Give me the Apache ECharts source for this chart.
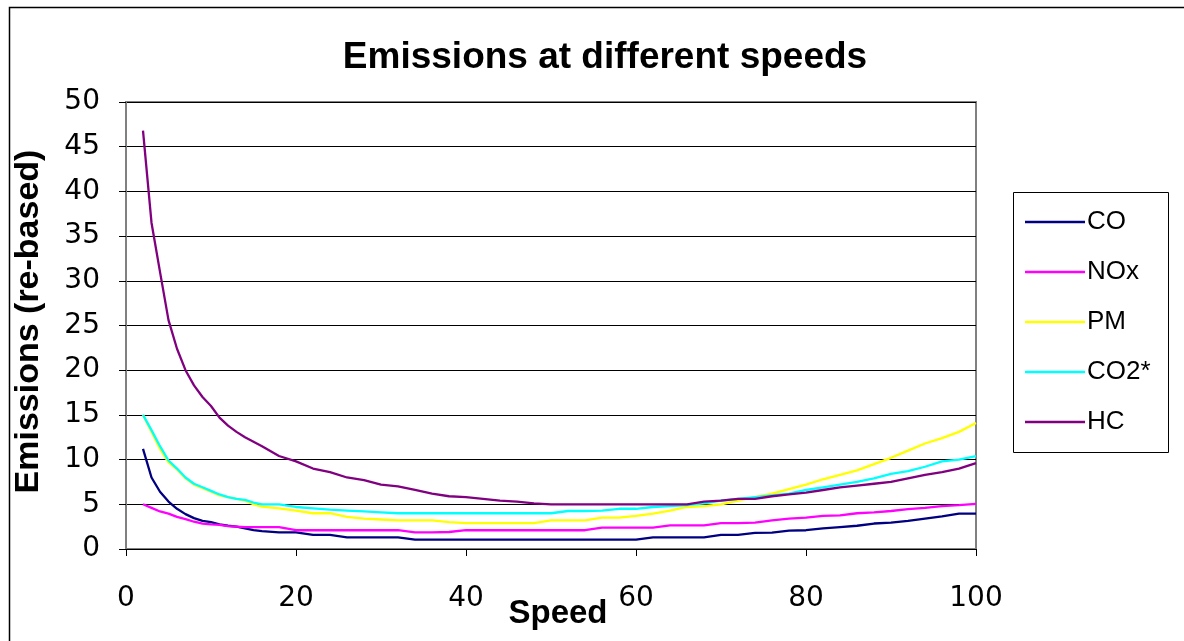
<!DOCTYPE html>
<html>
<head>
<meta charset="utf-8">
<script src="https://cdn.jsdelivr.net/npm/echarts@6/dist/echarts.min.js"></script>
<style>
  html,body{margin:0;padding:0;background:#fff;}
  #main{width:1184px;height:641px;}
</style>
</head>
<body>
<div id="main"></div>
<script>
// speeds (x values) shared by every series
var speeds = [2,3,4,5,6,7,8,9,10,11,12,13,14,15,16,18,20,22,24,26,28,30,32,34,36,38,40,42,44,46,48,50,52,54,56,58,60,62,64,66,68,70,72,74,76,78,80,82,84,86,88,90,92,94,96,98,100];

var coVals  = [11.2,8.0,6.4,5.3,4.5,3.9,3.45,3.15,3.0,2.75,2.6,2.5,2.3,2.1,2.0,1.86,1.86,1.57,1.57,1.3,1.3,1.3,1.3,1.04,1.04,1.04,1.04,1.04,1.04,1.04,1.04,1.04,1.04,1.04,1.04,1.04,1.04,1.3,1.3,1.3,1.3,1.57,1.57,1.8,1.83,2.05,2.1,2.3,2.45,2.6,2.85,2.95,3.15,3.4,3.65,3.95,3.95];
var noxVals = [5.0,4.6,4.2,3.95,3.6,3.35,3.05,2.85,2.75,2.7,2.55,2.5,2.45,2.45,2.45,2.45,2.1,2.1,2.1,2.1,2.1,2.1,2.1,1.86,1.86,1.9,2.1,2.1,2.1,2.1,2.1,2.1,2.1,2.1,2.4,2.4,2.4,2.4,2.65,2.65,2.65,2.9,2.9,2.95,3.2,3.4,3.5,3.7,3.75,4.0,4.1,4.25,4.45,4.6,4.8,4.9,5.05];
var pmVals  = [15.0,13.1,11.2,9.7,8.9,7.9,7.2,6.8,6.4,6.0,5.8,5.6,5.4,5.0,4.75,4.55,4.3,4.0,4.0,3.6,3.4,3.3,3.2,3.2,3.2,3.0,2.9,2.9,2.9,2.9,2.9,3.2,3.2,3.2,3.5,3.5,3.7,3.95,4.3,4.7,4.8,5.0,5.4,5.8,6.2,6.7,7.2,7.8,8.3,8.8,9.5,10.2,11.0,11.8,12.4,13.1,14.1];
var co2Vals = [15.0,13.3,11.5,9.9,9.0,8.0,7.3,6.9,6.5,6.1,5.8,5.6,5.5,5.2,5.0,5.0,4.7,4.55,4.4,4.3,4.2,4.1,4.0,4.0,4.0,4.0,4.0,4.0,4.0,4.0,4.0,4.0,4.25,4.25,4.3,4.5,4.5,4.7,4.8,4.9,5.1,5.4,5.6,5.8,6.0,6.2,6.6,6.9,7.2,7.5,7.9,8.4,8.7,9.2,9.8,10.0,10.4];
var hcVals  = [46.8,36.5,31.0,25.6,22.4,20.0,18.3,17.0,16.0,14.7,13.8,13.1,12.5,12.0,11.5,10.4,9.8,9.0,8.6,8.0,7.7,7.2,7.0,6.6,6.2,5.9,5.8,5.6,5.4,5.3,5.1,5.0,5.0,5.0,5.0,5.0,5.0,5.0,5.0,5.0,5.3,5.4,5.6,5.6,5.9,6.1,6.3,6.6,6.9,7.1,7.3,7.5,7.9,8.3,8.6,9.0,9.6];

var names  = ['CO','NOx','PM','CO2*','HC'];
var values = [coVals, noxVals, pmVals, co2Vals, hcVals];
var colors = ['#000080','#ff00ff','#ffff00','#00ffff','#800080'];

function pairs(v){
  var out = [];
  for (var i = 0; i < speeds.length; i++) out.push([speeds[i], v[i]]);
  return out;
}

var myChart = echarts.init(document.getElementById('main'));
var font = 'Liberation Sans, Arial, sans-serif';
var numFont = 'DejaVu Sans, sans-serif';

var series = [];
for (var i = 0; i < names.length; i++) {
  series.push({
    name: names[i],
    type: 'line',
    data: pairs(values[i]),
    symbol: 'none',
    smooth: false,
    lineStyle: { color: colors[i], width: 2.3 },
    itemStyle: { color: colors[i] }
  });
}

myChart.setOption({
  animation: false,
  backgroundColor: '#fff',
  title: {
    text: 'Emissions at different speeds',
    left: 600, top: 34, textAlign: 'center',
    textStyle: { fontFamily: font, fontSize: 37, fontWeight: 'bold', color: '#000' }
  },
  graphic: [{
    type: 'rect', silent: true, z: -1,
    shape: { x: 9.5, y: 7.5, width: 1300, height: 800 },
    style: { fill: 'none', stroke: '#000', lineWidth: 1.5 }
  }, {
    type: 'rect', silent: true, z: 0,
    shape: { x: 126, y: 102, width: 850, height: 447 },
    style: { fill: 'none', stroke: '#808080', lineWidth: 2 }
  }, {
    type: 'rect', silent: true, z: 0,
    shape: { x: 1013.5, y: 192.5, width: 155, height: 260 },
    style: { fill: 'none', stroke: '#000', lineWidth: 1 }
  }],
  legend: {
    orient: 'vertical',
    left: 1025, top: 209,
    padding: 0,
    icon: 'rect',
    itemWidth: 60, itemHeight: 2.5, itemGap: 24,
    textStyle: { fontFamily: font, fontSize: 26, lineHeight: 26, color: '#000', padding: [0, 0, 0, -3] },
    data: names
  },
  grid: { left: 126, right: 208, top: 102, bottom: 92, containLabel: false, outerBoundsMode: 'none' },
  xAxis: {
    type: 'value', min: 0, max: 100, interval: 20,
    name: 'Speed', nameLocation: 'middle', nameGap: 48, nameMoveOverlap: false,
    nameTextStyle: { fontFamily: font, fontSize: 33, fontWeight: 'bold', color: '#000', padding: [0, 0, 0, 14] },
    axisLine: { lineStyle: { color: '#000', width: 1 } },
    axisTick: { show: true, length: 7, inside: false, lineStyle: { color: '#000' } },
    axisLabel: { fontFamily: numFont, fontSize: 28, color: '#000', margin: 36 },
    splitLine: { show: false }
  },
  yAxis: {
    type: 'value', min: 0, max: 50, interval: 5,
    name: 'Emissions (re-based)', nameLocation: 'middle', nameGap: 80, nameMoveOverlap: false,
    nameTextStyle: { fontFamily: font, fontSize: 34, fontWeight: 'bold', color: '#000', padding: [0, 0, 0, 8] },
    axisLine: { show: true, lineStyle: { color: '#808080', width: 2 } },
    axisTick: { show: true, length: 7, lineStyle: { color: '#000' } },
    axisLabel: { fontFamily: numFont, fontSize: 28, color: '#000', margin: 26 },
    splitLine: { show: true, lineStyle: { color: '#000', width: 1 } }
  },
  series: series
});
</script>
</body>
</html>
